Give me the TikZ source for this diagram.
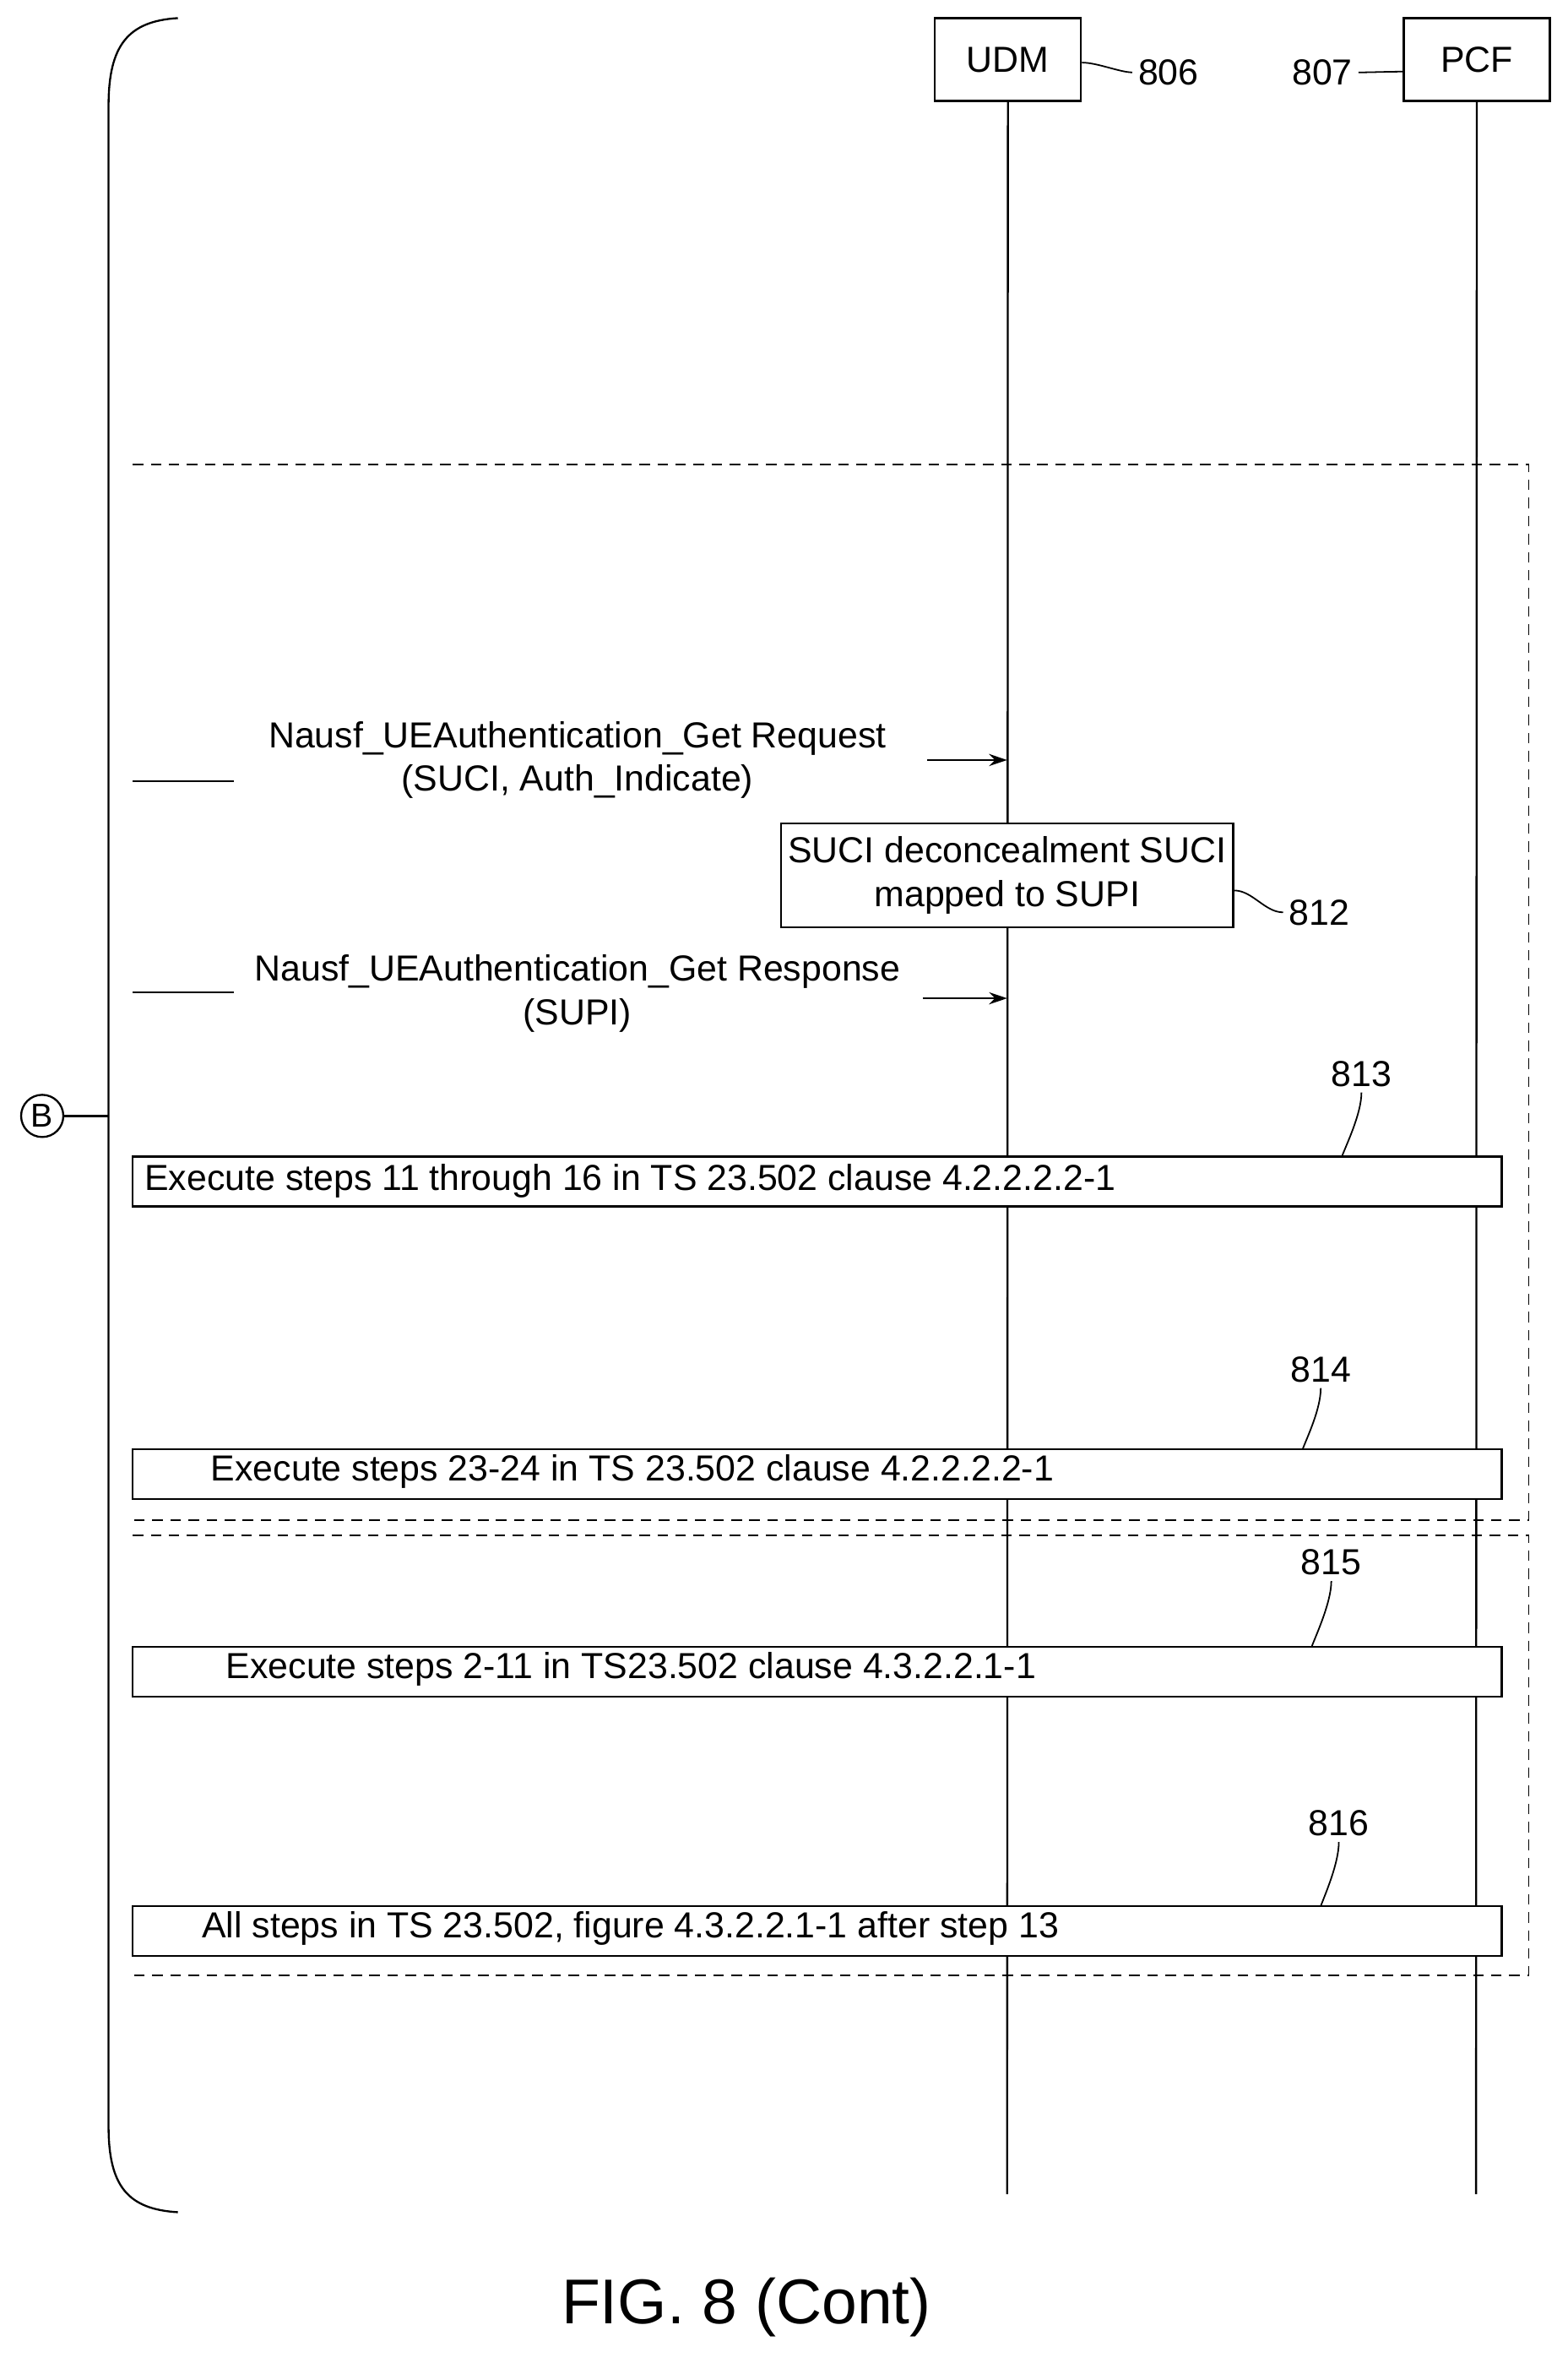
\documentclass[tikz,border=0pt]{standalone}
\usepackage{fontspec}
\setmainfont{Liberation Sans}
\usetikzlibrary{arrows.meta}
\begin{document}
\begin{tikzpicture}[x=1pt,y=-1pt,line width=1.3pt,
  lbl/.style={font=\fontsize{24}{29}\selectfont},
  ent/.style={draw,fill=white,minimum width=97pt,minimum height=55pt,font=\fontsize{24}{29}\selectfont},
  bar/.style={draw,fill=white},
  dsh/.style={dashed,line width=1pt,dash pattern=on 7pt off 5pt},
  sq/.style={line width=1pt},
  arr/.style={-{Stealth[length=12pt,width=8pt]}}]
\useasboundingbox (0,0) rectangle (1040,1567);
% brace
\draw (118,12) .. controls (85,14) and (72,30) .. (72,70) -- (72,1410) .. controls (72,1450) and (85,1465) .. (118,1467);
\node[draw,circle,inner sep=0pt,minimum size=28pt,font=\fontsize{22}{25}\selectfont] (B) at (28,740) {B};
\coordinate (bt) at (72,740);
\draw (B) -- (bt);
% entities
\node[ent] (udm) at (668.5,39.5) {UDM};
\node[ent] (pcf) at (979.5,39.5) {PCF};
\coordinate (udmE) at (668,1455);
\coordinate (pcfE) at (979,1455);
\draw (udm.south) -- (udmE);
\draw (pcf.south) -- (pcfE);
\node[lbl] (n806) at (775,48) {806};
\draw[sq] (udm.east) ++(0,2) .. controls +(10,0) and +(-8,0) .. (n806.west);
\node[lbl] (n807) at (877,48) {807};
\draw[sq] (n807.east) .. controls +(8,0) and +(-10,0) .. ([yshift=-8pt]pcf.west);
% dashed boxes
\draw[dsh] (88,308) -- (1014,308) -- (1014,1008) -- (88,1008);
\draw[dsh] (88,1018) -- (1014,1018) -- (1014,1310) -- (88,1310);
% message 1
\coordinate (m1a) at (88,518); \coordinate (m1b) at (155,518);
\draw (m1a) -- (m1b);
\node[lbl,align=center] (t1) at (383,504) {Nausf\_UEAuthentication\_Get Request\\(SUCI, Auth\_Indicate)};
\coordinate (a1) at (615,504); \coordinate (a1e) at (668,504);
\draw[arr] (a1) -- (a1e);
% box 812
\node[draw,fill=white,minimum width=300pt,minimum height=69pt,align=center,lbl] (b812) at (668,580.5) {SUCI deconcealment SUCI\\mapped to SUPI};
\node[lbl] (n812) at (875,605) {812};
\draw[sq] (b812.east) ++(0,10) .. controls +(12,0) and +(-12,0) .. (n812.west);
% message 2
\coordinate (m2a) at (88,658); \coordinate (m2b) at (155,658);
\draw (m2a) -- (m2b);
\node[lbl,align=center] (t2) at (383,659) {Nausf\_UEAuthentication\_Get Response\\(SUPI)};
\coordinate (a2) at (612,662); \coordinate (a2e) at (668,662);
\draw[arr] (a2) -- (a2e);
% bars
\node[bar,minimum width=908pt,minimum height=33pt] (b813) at (542,783.5) {};
\node[lbl,anchor=west] at (92,783) {Execute steps 11 through 16 in TS 23.502 clause 4.2.2.2.2-1};
\node[lbl] (n813) at (903,712) {813};
\draw[sq] (n813.south) .. controls +(0,14) and +(3,-8) .. (890,767);
\node[bar,minimum width=908pt,minimum height=33pt] (b814) at (542,977.5) {};
\node[lbl,anchor=west] at (136,976) {Execute steps 23-24 in TS 23.502 clause 4.2.2.2.2-1};
\node[lbl] (n814) at (876,908) {814};
\draw[sq] (n814.south) .. controls +(0,14) and +(3,-8) .. (864,961);
\node[bar,minimum width=908pt,minimum height=33pt] (b815) at (542,1108.5) {};
\node[lbl,anchor=west] at (146,1107) {Execute steps 2-11 in TS23.502 clause 4.3.2.2.1-1};
\node[lbl] (n815) at (883,1036) {815};
\draw[sq] (n815.south) .. controls +(0,14) and +(3,-8) .. (870,1092);
\node[bar,minimum width=908pt,minimum height=33pt] (b816) at (542,1280.5) {};
\node[lbl,anchor=west] at (130,1279) {All steps in TS 23.502, figure 4.3.2.2.1-1 after step 13};
\node[lbl] (n816) at (888,1209) {816};
\draw[sq] (n816.south) .. controls +(0,14) and +(3,-8) .. (876,1264);
% caption
\node[font=\fontsize{42}{46}\selectfont] (cap) at (495,1530) {FIG. 8 (Cont)};
\end{tikzpicture}
\end{document}
